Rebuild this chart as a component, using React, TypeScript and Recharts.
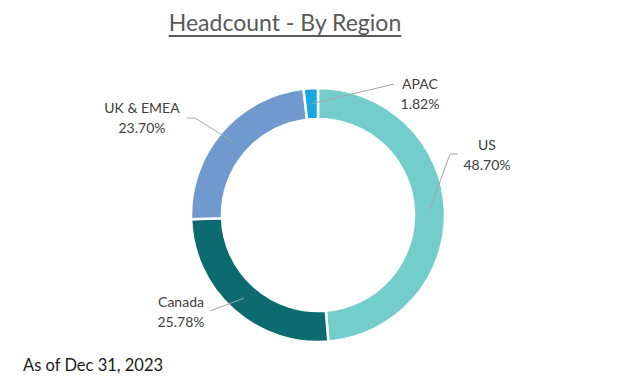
import React from 'react'
import { PieChart, Pie, Cell } from 'recharts'

// headcount share by region, % of total
const regions = ['US', 'Canada', 'UK & EMEA', 'APAC']
const shares = [48.7, 25.78, 23.7, 1.82]
const colors = ['#73CDCB', '#0B6B70', '#7099CE', '#17A6DF']

const chartData = regions.map((name, i) => ({ name, value: shares[i] }))

// where Excel put each label, relative to the pie centre (text centre + leader elbow points)
const labelLayout: Record<string, { x: number; y: number; line: number[][] }> = {
  US: { x: 169, y: -60, line: [[132, -61], [140, -61]] },
  Canada: { x: -137, y: 97, line: [[-108, 96]] },
  'UK & EMEA': { x: -176, y: -97, line: [[-123, -97], [-131, -97]] },
  APAC: { x: 102, y: -121, line: [[76, -131]] },
}

const RAD = Math.PI / 180
const FONT = 'Lato, "Noto Sans", sans-serif'

const renderLabel = ({ cx, cy, midAngle, innerRadius, outerRadius, name, value }: any) => {
  const layout = labelLayout[name]
  if (!layout) return null
  const r = (innerRadius + outerRadius) / 2
  const sx = cx + r * Math.cos(-midAngle * RAD)
  const sy = cy + r * Math.sin(-midAngle * RAD)
  const pts = [[sx, sy], ...layout.line.map(([dx, dy]) => [cx + dx, cy + dy])]
  return (
    <g>
      <polyline
        points={pts.map((p) => p.join(',')).join(' ')}
        fill="none"
        stroke="#A6A6A6"
        strokeWidth={1}
      />
      <text
        x={cx + layout.x}
        y={cy + layout.y}
        textAnchor="middle"
        fill="#404040"
        fontSize={14}
        fontFamily={FONT}
      >
        <tspan x={cx + layout.x} dy={-5}>{name}</tspan>
        <tspan x={cx + layout.x} dy={20}>{value.toFixed(2)}%</tspan>
      </text>
    </g>
  )
}

export default function App() {
  return (
    <div style={{ position: 'relative', width: 637, height: 381, background: '#fff', overflow: 'hidden' }}>
      <style>{'body{margin:0}'}</style>
      <div
        style={{
          position: 'absolute',
          left: 0,
          width: 570,
          top: 8,
          textAlign: 'center',
          fontFamily: FONT,
          fontSize: 23,
          color: '#595959',
          textDecoration: 'underline',
          textUnderlineOffset: 4,
        }}
      >
        Headcount - By Region
      </div>
      <PieChart width={637} height={381} margin={{ top: 0, right: 0, bottom: 0, left: 0 }}>
        <Pie
          data={chartData}
          dataKey="value"
          nameKey="name"
          cx={318}
          cy={215}
          innerRadius={96}
          outerRadius={127}
          startAngle={90}
          endAngle={-270}
          stroke="#fff"
          strokeWidth={2.5}
          labelLine={false}
          label={renderLabel}
          isAnimationActive={false}
        >
          {chartData.map((entry, index) => (
            <Cell key={`cell-${index}`} fill={colors[index % colors.length]} />
          ))}
        </Pie>
      </PieChart>
      <div
        style={{
          position: 'absolute',
          left: 23,
          top: 355,
          fontFamily: FONT,
          fontSize: 16.5,
          color: '#1a1a1a',
        }}
      >
        As of Dec 31, 2023
      </div>
    </div>
  )
}
